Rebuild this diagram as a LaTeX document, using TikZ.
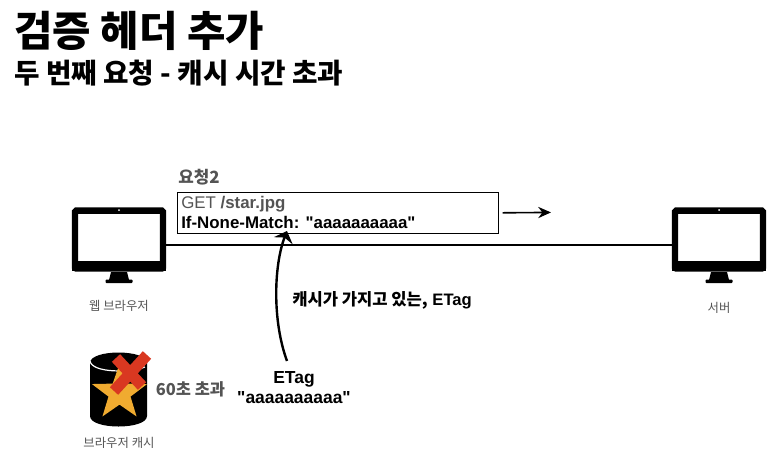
\documentclass[tikz,border=0pt]{standalone}
\usepackage{fontspec}
\setmainfont{Liberation Sans}[Ligatures=TeXOff]
\newfontfamily\kor{Noto Sans CJK KR}
\usetikzlibrary{arrows.meta,calc,positioning,shapes.geometric}
\definecolor{labelgray}{rgb}{0.33,0.33,0.33}
\definecolor{xred}{rgb}{0.85,0.22,0.13}
\definecolor{stargold}{rgb}{0.94,0.67,0.19}
\tikzset{
  monitor/.style={draw=black,fill=white,line width=0.16cm,rounded corners=0.03cm,minimum width=2.2cm,minimum height=1.44cm,inner sep=0},
  smalllabel/.style={text=labelgray,font=\fontsize{8.8}{10}\selectfont\kor},
  boldlabel/.style={font=\fontsize{12.4}{14.2}\selectfont\bfseries,align=center}
}
\begin{document}
\begin{tikzpicture}[x=0.025cm,y=-0.025cm]
  \useasboundingbox (0,0) rectangle (780,468);
  % titles
  \node[anchor=west,inner sep=0,font=\fontsize{29.7}{34}\selectfont\kor\bfseries] (title) at (14,31) {검증 헤더 추가};
  \node[anchor=west,inner sep=0,font=\fontsize{19.7}{23}\selectfont\kor\bfseries] (subtitle) at (14,73) {두 번째 요청 - 캐시 시간 초과};
  % the line goes first, the monitors sit on top of it
  \node[monitor] (browser) at (119,239.5) {};
  \node[monitor] (server) at (719,239.5) {};
  \draw[line width=0.05cm] ([yshift=-0.13cm]browser.east) -- ([yshift=-0.13cm]server.west);
  % monitor chin, stands and cameras
  \foreach \mx in {119,719} {
    \fill (\mx-47,261) rectangle (\mx+47,271);
    \fill (\mx-8,272) -- (\mx+8,272) -- (\mx+10,280) -- (\mx-10,280) -- cycle;
    \fill[rounded corners=0.02cm] (\mx-13.5,279.5) rectangle (\mx+13.5,283);
    \fill[white] (\mx,210) circle (0.025cm);
  }
  \node[smalllabel] (browserlabel) at (119,306) {웹 브라우저};
  \node[smalllabel] (serverlabel) at (719,308) {서버};
  % request box
  \node[anchor=west,inner sep=0,text=labelgray,font=\fontsize{12}{14}\selectfont\kor\bfseries] (reqtitle) at (178,177) {요청2};
  \node[draw,line width=0.02cm,anchor=north west,minimum width=8.02cm,minimum height=1.02cm,inner sep=0] (reqbox) at (177,192) {};
  \node[anchor=west,inner sep=0,text=labelgray,font=\fontsize{12}{14}\selectfont] (reqget) at (181,204) {GET \textbf{/star.jpg}};
  \node[anchor=west,inner sep=0,font=\fontsize{12}{14}\selectfont\bfseries] (reqmatch) at (181,222) {If-None-Match: "aaaaaaaaaa"};
  \coordinate (reqend) at (551,212.4);
  \draw[-{Stealth[length=0.32cm,width=0.28cm]},line width=0.04cm] ([xshift=0.1cm]reqbox.east) -- (reqend);
  % etag
  \node[boldlabel] (etag) at (294,388) {ETag\\"aaaaaaaaaa"};
  \node[anchor=west,inner sep=0,font=\fontsize{11.8}{14}\selectfont\bfseries] (etagnote) at (292,300) {{\kor 캐시가 가지고 있는,} ETag};
  \coordinate (etagtip) at (287,231);
  \draw[-{Stealth[length=0.26cm,width=0.5cm]},line width=0.06cm] ([shift={(-7,-6)}]etag.north) .. controls (272,320) and (274,265) .. (etagtip);
  % cache with the star and the red cross
  \node[smalllabel] (cachelabel) at (119,443) {브라우저 캐시};
  \node[text=labelgray,inner sep=0,font=\fontsize{11.7}{13}\selectfont\kor\bfseries] (cachenote) at (190.5,389) {60초 초과};
  \fill (90,363) .. controls (90,349) and (147,349) .. (147,363) -- (147,416) .. controls (147,430) and (90,430) .. (90,416) -- cycle;
  \draw[white,line width=0.03cm] (90,361) .. controls (92,373) and (130,373) .. (145,367);
  \node[star,star points=5,star point ratio=2.5,fill=stargold,minimum size=1.45cm,inner sep=0] (cachestar) at (119.5,393) {};
  \draw[xred,line width=0.28cm] (116,358) -- (142,386);
  \draw[xred,line width=0.28cm] (147,355) -- (114,391);
\end{tikzpicture}
\end{document}
